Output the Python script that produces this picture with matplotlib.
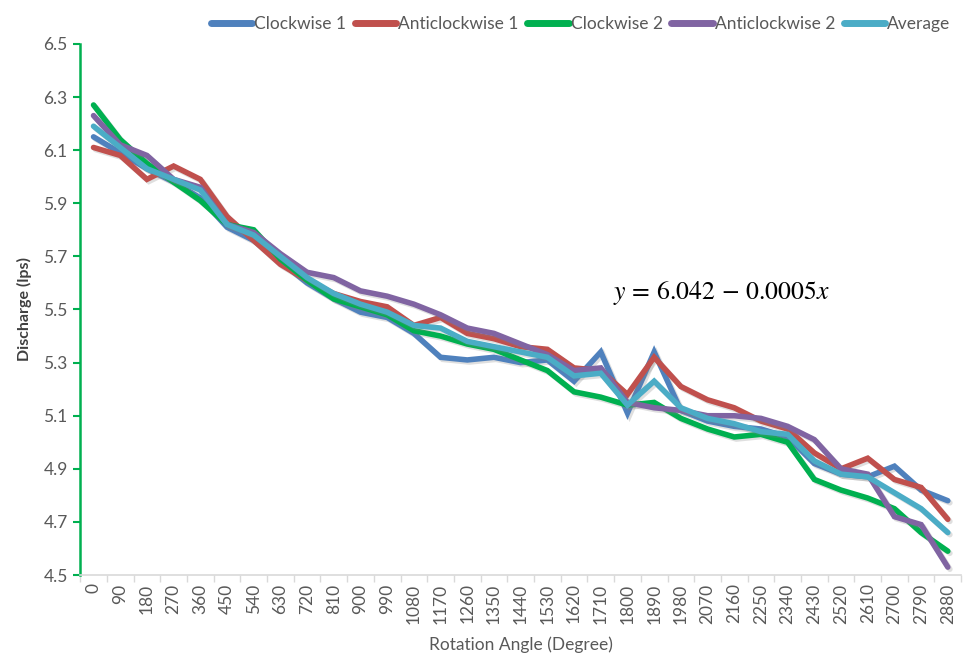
import numpy as np
import matplotlib
matplotlib.use("Agg")
import matplotlib.pyplot as plt
import matplotlib.patheffects as pe

angles = list(range(0, 2881, 90))

clockwise_1 = [6.15, 6.09, 6.03, 5.98, 5.92, 5.81, 5.76, 5.68, 5.60, 5.54, 5.49,
               5.47, 5.41, 5.32, 5.31, 5.32, 5.30, 5.31, 5.23, 5.34, 5.11, 5.34,
               5.12, 5.08, 5.06, 5.05, 5.02, 4.92, 4.88, 4.87, 4.91, 4.82, 4.78]
anticlockwise_1 = [6.11, 6.08, 5.99, 6.04, 5.99, 5.85, 5.76, 5.67, 5.61, 5.56, 5.53,
                   5.51, 5.44, 5.47, 5.41, 5.39, 5.36, 5.35, 5.28, 5.27, 5.18, 5.32,
                   5.21, 5.16, 5.13, 5.08, 5.05, 4.96, 4.90, 4.94, 4.86, 4.83, 4.71]
clockwise_2 = [6.27, 6.14, 6.05, 5.98, 5.91, 5.82, 5.80, 5.69, 5.61, 5.54, 5.51,
               5.48, 5.42, 5.40, 5.37, 5.35, 5.31, 5.27, 5.19, 5.17, 5.14, 5.15,
               5.09, 5.05, 5.02, 5.03, 5.00, 4.86, 4.82, 4.79, 4.75, 4.66, 4.59]
anticlockwise_2 = [6.23, 6.12, 6.08, 5.99, 5.96, 5.82, 5.79, 5.71, 5.64, 5.62, 5.57,
                   5.55, 5.52, 5.48, 5.43, 5.41, 5.37, 5.33, 5.27, 5.28, 5.15, 5.13,
                   5.12, 5.10, 5.10, 5.09, 5.06, 5.01, 4.90, 4.88, 4.72, 4.69, 4.53]
average = [6.19, 6.11, 6.03, 5.99, 5.95, 5.82, 5.78, 5.70, 5.62, 5.56, 5.52,
           5.49, 5.44, 5.43, 5.38, 5.36, 5.34, 5.32, 5.25, 5.26, 5.14, 5.23,
           5.13, 5.09, 5.07, 5.04, 5.03, 4.93, 4.88, 4.87, 4.81, 4.75, 4.66]

series = [
    ("Clockwise 1", clockwise_1, "#4F81BD"),
    ("Anticlockwise 1", anticlockwise_1, "#C0504D"),
    ("Clockwise 2", clockwise_2, "#00B050"),
    ("Anticlockwise 2", anticlockwise_2, "#8064A2"),
    ("Average", average, "#4BACC6"),
]

plt.rcParams['font.family'] = ['Lato', 'DejaVu Sans']
plt.rcParams['mathtext.fontset'] = 'stix'

fig = plt.figure(figsize=(9.66, 6.55), dpi=100)
ax = fig.add_axes([0.083, 0.122, 0.912, 0.811])

x = np.arange(len(angles))
shadow = [pe.SimpleLineShadow(offset=(1.5, -1.5), alpha=0.25, shadow_color='gray'), pe.Normal()]
for name, vals, col in series:
    ax.plot(x, vals, color=col, linewidth=4.0, label=name,
            solid_joinstyle='miter', solid_capstyle='round', path_effects=shadow)

ax.set_xlim(-0.5, len(angles) - 0.5)
ax.set_ylim(4.5, 6.5)
ax.set_yticks(np.arange(4.5, 6.51, 0.2))
ax.set_yticklabels([f"{v:.1f}" for v in np.arange(4.5, 6.51, 0.2)])
ax.set_xticks(x)
ax.set_xticklabels([str(a) for a in angles], rotation=90)
ax.set_xticks(np.arange(-0.5, len(angles)), minor=True)
ax.tick_params(axis='x', which='major', length=0, pad=6, labelsize=12.5, labelcolor='#595959')
ax.tick_params(axis='x', which='minor', length=5, color='#D9D9D9', width=1)
ax.tick_params(axis='y', length=5, color='#00B050', width=1.5, labelsize=12.5, labelcolor='#595959', pad=4)

for s in ['top', 'right']:
    ax.spines[s].set_visible(False)
ax.spines['left'].set_color('#00B050')
ax.spines['left'].set_linewidth(1.8)
ax.spines['bottom'].set_color('#D9D9D9')
ax.spines['bottom'].set_linewidth(1.2)

ax.set_xlabel("Rotation Angle (Degree)", fontsize=12.5, color='#595959', labelpad=9)
ax.set_ylabel("Discharge (lps)", fontsize=11.5, color='#404040', fontweight='bold', labelpad=8)

ax.text(0.605, 0.52, r"$y\, =\, 6.042\, -\, 0.0005x$", transform=ax.transAxes,
        fontsize=18.5, color='black')

leg = fig.legend(loc='upper right', bbox_to_anchor=(1.0, 1.0), ncol=5, frameon=False,
                 fontsize=12.5, handlelength=2.4, handletextpad=0.1, columnspacing=0.5,
                 labelcolor='#595959')
for h in leg.get_lines():
    h.set_linewidth(5)
    h.set_path_effects([])

fig.savefig("out.png", dpi=100)
